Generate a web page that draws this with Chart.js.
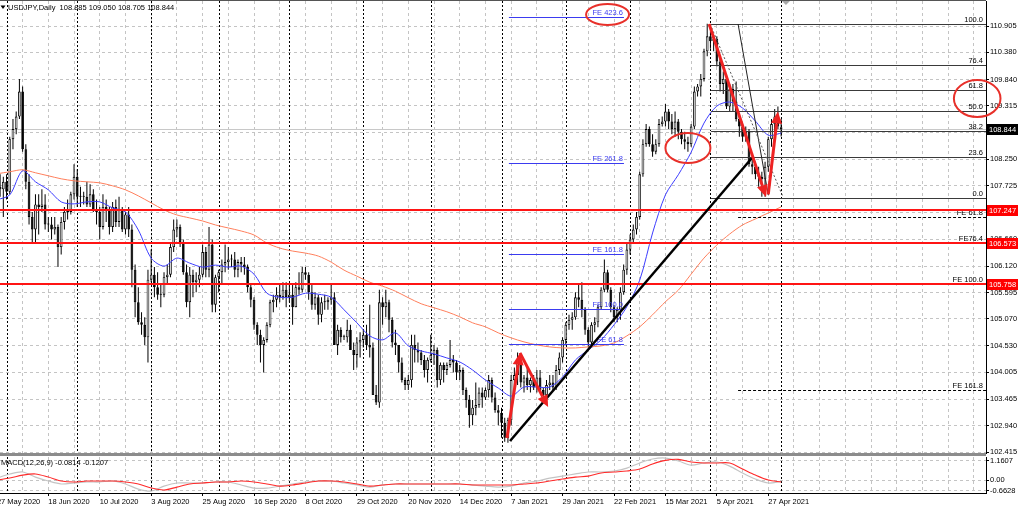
<!DOCTYPE html>
<html>
<head>
<meta charset="utf-8">
<title>USDJPY Daily</title>
<script src="https://cdn.jsdelivr.net/npm/chart.js@4.4.1/dist/chart.umd.min.js"></script>
<style>
  html, body { margin: 0; padding: 0; background: #fff; overflow: hidden; }
  #wrap { position: relative; width: 1024px; height: 511px; }
  #main { position: absolute; left: 0; top: 0; }
  #sep { position: absolute; left: 0; top: 453px; width: 986px; height: 3px; background: #8c8c8c; }
  #macd { position: absolute; left: 0; top: 456px; }
</style>
</head>
<body>
<div id="wrap">
  <canvas id="main" width="1024" height="457"></canvas>
  <div id="sep"></div>
  <canvas id="macd" width="1024" height="55"></canvas>
</div>
<script>
// ---- data ----

const headerText = 'USDJPY,Daily  108.885 109.050 108.705 108.844';
const macdTitle = 'MACD(12,26,9) -0.0814 -0.1207';

// daily candles [open, high, low, close], one row per bar from 27 May 2020
const candles = [
  // May 27-29
  [107.55,107.85,107.40,107.70],[107.70,107.95,107.50,107.65],[107.65,107.90,107.10,107.80],
  // Jun 1-5
  [107.80,107.95,107.45,107.60],[107.60,108.70,107.55,108.65],[108.65,109.05,108.45,108.85],[108.85,109.20,108.75,109.10],[109.10,109.85,109.05,109.60],
  // Jun 8-12
  [109.60,109.70,108.40,108.45],[108.45,108.55,107.65,107.80],[107.80,107.95,106.95,107.10],[107.10,107.20,106.60,106.85],[106.85,107.55,106.60,107.35],
  // Jun 15-19
  [107.35,107.55,106.75,107.30],[107.30,107.65,107.20,107.35],[107.35,107.55,106.85,106.95],[106.95,107.10,106.80,106.95],[106.95,107.10,106.65,106.85],
  // Jun 22-26
  [106.85,107.10,106.75,106.90],[106.90,106.95,106.10,106.50],[106.50,107.10,106.35,107.00],[107.00,107.30,106.85,107.20],[107.20,107.45,107.05,107.20],
  // Jun 29 - Jul 3
  [107.20,107.60,107.15,107.55],[107.55,108.15,107.45,107.90],[107.90,108.05,107.30,107.50],[107.50,107.70,107.30,107.50],[107.50,107.60,107.35,107.50],
  // Jul 6-10
  [107.50,107.80,107.30,107.35],[107.35,107.75,107.30,107.55],[107.55,107.65,107.20,107.25],[107.25,107.45,106.95,107.20],[107.20,107.30,106.65,106.90],
  // Jul 13-17
  [106.90,107.55,106.85,107.30],[107.30,107.45,107.00,107.25],[107.25,107.30,106.75,106.90],[106.90,107.40,106.80,107.30],[107.30,107.45,106.90,107.00],
  // Jul 20-24
  [107.00,107.50,106.90,107.25],[107.25,107.30,106.80,106.85],[106.85,107.20,106.75,107.15],[107.15,107.30,106.70,106.85],[106.85,106.95,105.70,106.05],
  // Jul 27-31
  [106.05,106.15,105.10,105.40],[105.40,105.70,104.95,105.00],[105.00,105.20,104.75,104.95],[104.95,105.10,104.55,104.70],[104.70,106.05,104.20,105.85],
  // Aug 3-7
  [105.85,106.45,105.80,105.95],[105.95,106.10,105.50,105.70],[105.70,106.00,105.45,105.55],[105.55,105.75,105.30,105.55],[105.55,106.00,105.50,105.90],
  // Aug 10-14
  [105.90,106.15,105.75,105.95],[105.95,106.60,105.90,106.50],[106.50,107.05,106.40,106.85],[106.85,107.05,106.70,106.90],[106.90,106.95,106.50,106.60],
  // Aug 17-21
  [106.60,106.65,105.95,106.00],[106.00,106.15,105.30,105.40],[105.40,106.10,105.10,105.95],[105.95,106.05,105.50,105.80],[105.80,106.00,105.60,105.85],
  // Aug 24-28
  [105.85,106.10,105.70,105.95],[105.95,106.55,105.90,106.40],[106.40,106.50,105.90,106.05],[106.05,106.90,105.90,106.55],[106.55,106.65,105.20,105.35],
  // Aug 31 - Sep 4
  [105.35,105.95,105.20,105.90],[105.90,106.05,105.60,106.00],[106.00,106.25,105.75,106.15],[106.15,106.55,106.00,106.20],[106.20,106.50,106.05,106.25],
  // Sep 7-11
  [106.25,106.35,106.10,106.25],[106.25,106.40,105.90,106.05],[106.05,106.25,105.90,106.20],[106.20,106.30,106.00,106.15],[106.15,106.30,105.95,106.10],
  // Sep 14-18
  [106.10,106.15,105.60,105.70],[105.70,105.75,105.30,105.45],[105.45,105.50,104.85,104.95],[104.95,105.00,104.55,104.75],[104.75,104.85,104.20,104.55],
  // Sep 21-25
  [104.55,104.70,104.00,104.65],[104.65,105.00,104.60,104.95],[104.95,105.45,104.90,105.40],[105.40,105.55,105.20,105.45],[105.45,105.70,105.30,105.55],
  // Sep 28 - Oct 2
  [105.55,105.75,105.40,105.50],[105.50,105.80,105.45,105.65],[105.65,105.80,105.30,105.50],[105.50,105.75,105.40,105.55],[105.55,105.75,104.95,105.30],
  // Oct 5-9
  [105.30,105.80,105.30,105.70],[105.70,106.00,105.55,105.65],[105.65,106.10,105.60,106.00],[106.00,106.10,105.85,105.95],[105.95,106.00,105.45,105.60],
  // Oct 12-16
  [105.60,105.75,105.25,105.35],[105.35,105.60,105.25,105.50],[105.50,105.55,104.95,105.15],[105.15,105.50,105.00,105.40],[105.40,105.55,105.25,105.40],
  // Oct 19-23
  [105.40,105.50,105.25,105.45],[105.45,105.75,105.35,105.50],[105.50,105.60,104.55,104.55],[104.55,104.95,104.35,104.85],[104.85,104.90,104.60,104.70],
  // Oct 25 (Sun), 26-30
  [104.70,104.75,104.65,104.70],[104.70,105.05,104.60,104.85],[104.85,104.95,104.45,104.45],[104.45,104.60,104.05,104.35],[104.35,104.70,104.10,104.60],[104.60,104.80,104.30,104.65],
  // Nov 2-6
  [104.65,104.85,104.50,104.75],[104.75,104.95,104.45,104.55],[104.55,105.35,104.30,104.50],[104.50,104.60,103.55,103.55],[103.55,103.75,103.35,103.40],
  // Nov 9-13
  [103.40,105.65,103.30,105.40],[105.40,105.50,104.95,105.30],[105.30,105.65,105.10,105.40],[105.40,105.45,104.80,105.05],[105.05,105.10,104.50,104.60],
  // Nov 16-20
  [104.60,104.85,104.35,104.55],[104.55,104.55,104.00,104.20],[104.20,104.30,103.80,103.85],[103.85,103.90,103.65,103.75],[103.75,103.95,103.65,103.85],
  // Nov 23-27
  [103.85,104.75,103.70,104.55],[104.55,104.75,104.20,104.45],[104.45,104.60,104.20,104.40],[104.40,104.45,104.15,104.25],[104.25,104.35,103.90,104.05],
  // Nov 30 - Dec 4
  [104.05,104.30,103.80,104.25],[104.25,104.75,104.20,104.35],[104.35,104.55,104.15,104.45],[104.45,104.50,103.70,103.85],[103.85,104.20,103.75,104.15],
  // Dec 7-11
  [104.15,104.20,103.80,104.05],[104.05,104.20,103.95,104.15],[104.15,104.65,104.10,104.25],[104.25,104.35,104.00,104.20],[104.20,104.25,103.85,104.00],
  // Dec 14-18
  [104.00,104.15,103.85,104.05],[104.05,104.10,103.55,103.65],[103.65,103.70,103.30,103.45],[103.45,103.55,102.90,103.15],[103.15,103.45,102.95,103.30],
  // Dec 21-24
  [103.30,103.80,103.15,103.35],[103.35,103.70,103.30,103.60],[103.60,103.70,103.30,103.50],[103.50,103.70,103.45,103.65],
  // Dec 28-31
  [103.65,103.95,103.50,103.85],[103.85,103.90,103.40,103.50],[103.50,103.60,103.20,103.25],[103.25,103.35,102.95,103.20],
  // Jan 4-8
  [103.20,103.30,102.70,103.00],[103.00,103.10,102.62,102.70],[102.70,103.10,102.60,103.05],[103.05,103.95,102.95,103.85],[103.85,104.10,103.65,103.95],
  // Jan 11-15
  [103.95,104.40,103.75,104.20],[104.20,104.30,103.70,103.80],[103.80,103.95,103.60,103.90],[103.90,104.10,103.65,103.75],[103.75,103.90,103.60,103.85],
  // Jan 18-22
  [103.85,103.95,103.65,103.70],[103.70,104.05,103.60,103.90],[103.90,104.05,103.60,103.65],[103.65,103.70,103.45,103.55],[103.55,103.85,103.50,103.75],
  // Jan 25-29
  [103.75,103.95,103.65,103.80],[103.80,103.95,103.65,103.70],[103.70,104.15,103.65,104.05],[104.05,104.40,103.95,104.30],[104.30,104.70,104.20,104.65],
  // Feb 1-5
  [104.65,105.00,104.55,104.95],[104.95,105.15,104.85,105.05],[105.05,105.20,104.85,105.10],[105.10,105.60,105.05,105.50],[105.50,105.75,105.30,105.45],
  // Feb 8-12
  [105.45,105.80,105.10,105.25],[105.25,105.30,104.75,104.85],[104.85,104.90,104.50,104.60],[104.60,105.00,104.55,104.95],[104.95,105.10,104.80,105.00],
  // Feb 15-19
  [105.00,105.35,104.90,105.30],[105.30,105.70,105.25,105.65],[105.65,106.25,105.60,106.00],[106.00,106.05,105.60,105.65],[105.65,105.70,105.20,105.30],
  // Feb 22-26
  [105.30,105.35,105.00,105.10],[105.10,105.30,105.00,105.25],[105.25,105.70,105.05,105.60],[105.60,106.15,105.55,106.05],[106.05,106.60,105.95,106.45],
  // Mar 1-5
  [106.45,106.75,106.35,106.65],[106.65,106.95,106.60,106.85],[106.85,107.20,106.75,107.10],[107.10,108.00,107.05,107.95],[107.95,108.65,107.90,108.55],
  // Mar 8-12
  [108.55,108.95,108.50,108.85],[108.85,108.90,108.50,108.55],[108.55,108.75,108.30,108.40],[108.40,108.65,108.35,108.55],[108.55,109.05,108.50,108.95],
  // Mar 14 (Sun), 15-19
  [108.95,109.10,108.90,109.00],[109.00,109.35,108.90,109.20],[109.20,109.25,108.85,109.00],[109.00,109.15,108.75,108.85],[108.85,109.20,108.70,109.00],[109.00,109.05,108.65,108.80],
  // Mar 22-26
  [108.80,108.85,108.55,108.65],[108.65,108.80,108.45,108.60],[108.60,108.70,108.40,108.55],[108.55,108.95,108.50,108.90],[108.90,109.70,108.85,109.60],
  // Mar 28 (Sun), 29 - Apr 2
  [109.60,109.75,109.50,109.70],[109.70,109.95,109.50,109.85],[109.85,110.45,109.80,110.40],[110.40,110.95,110.30,110.70],[110.70,110.80,110.45,110.60],[110.60,110.70,110.40,110.65],
  // Apr 5-9
  [110.65,110.70,110.10,110.20],[110.20,110.30,109.60,109.75],[109.75,110.00,109.55,109.85],[109.85,109.90,109.25,109.30],[109.30,109.75,109.20,109.65],
  // Apr 12-16
  [109.65,109.75,109.20,109.40],[109.40,109.80,109.00,109.05],[109.05,109.10,108.70,108.90],[108.90,108.95,108.60,108.70],[108.70,108.90,108.60,108.80],
  // Apr 19-23
  [108.80,108.85,108.10,108.15],[108.15,108.30,107.95,108.10],[108.10,108.20,107.85,107.95],[107.95,108.10,107.70,107.90],[107.90,108.00,107.50,107.85],
  // Apr 26-30
  [107.85,108.20,107.50,108.10],[108.10,108.70,108.00,108.65],[108.65,109.05,108.50,108.95],[108.95,109.25,108.80,109.10],[109.10,109.30,108.85,108.90],
  // May 3
  [108.885,109.050,108.705,108.844]
];

// moving averages and MACD, read every 4th bar (bar 0, 4, 8, ...)
const MA_STEP = 4;
const maFast = [107.44,107.54,108.02,107.80,107.64,107.40,107.36,107.40,107.40,107.28,
  107.20,106.84,106.28,106.12,106.28,106.18,106.10,106.14,106.10,106.12,
  105.96,105.58,105.50,105.50,105.58,105.56,105.50,105.25,104.99,104.73,
  104.65,104.79,104.53,104.43,104.37,104.29,104.21,104.05,103.85,103.69,
  103.53,103.71,103.71,103.71,103.91,104.25,104.45,104.65,104.95,105.31,
  105.84,106.78,107.54,107.94,108.39,108.97,109.31,109.39,109.27,109.01,
  108.73,108.77];
const maSlow = [107.96,108.00,108.04,107.98,107.92,107.86,107.82,107.80,107.78,107.72,
  107.64,107.52,107.38,107.24,107.14,107.08,107.02,106.94,106.88,106.82,
  106.74,106.58,106.48,106.42,106.38,106.32,106.20,106.04,105.92,105.80,
  105.72,105.62,105.49,105.37,105.29,105.21,105.11,104.99,104.91,104.79,
  104.69,104.61,104.55,104.51,104.49,104.49,104.51,104.53,104.59,104.73,
  104.91,105.15,105.41,105.64,105.96,106.28,106.54,106.76,106.94,107.06,
  107.18,107.30];
const macdMain = [0.12,0.37,0.49,0.18,-0.06,-0.24,-0.18,-0.12,-0.12,-0.06,
  -0.24,-0.55,-0.67,-0.37,-0.18,-0.18,-0.18,-0.12,-0.12,-0.30,
  -0.49,-0.49,-0.37,-0.24,-0.12,-0.06,-0.06,-0.18,-0.30,-0.43,
  -0.30,-0.24,-0.24,-0.24,-0.24,-0.24,-0.24,-0.30,-0.37,-0.43,
  -0.37,-0.18,-0.06,0.12,0.24,0.37,0.49,0.49,0.55,0.73,
  1.04,1.28,1.34,1.16,0.91,1.04,1.10,0.85,0.43,0.06,
  -0.18,-0.08];
const macdSignal = [0.00,0.12,0.30,0.37,0.18,-0.06,-0.12,-0.06,-0.06,-0.06,
  -0.12,-0.24,-0.49,-0.61,-0.43,-0.24,-0.18,-0.12,-0.12,-0.06,
  -0.12,-0.24,-0.37,-0.30,-0.18,-0.06,-0.06,-0.12,-0.24,-0.37,
  -0.30,-0.24,-0.24,-0.24,-0.24,-0.24,-0.24,-0.30,-0.30,-0.30,
  -0.30,-0.24,-0.18,-0.06,0.06,0.18,0.24,0.43,0.49,0.55,
  0.67,0.98,1.20,1.26,1.10,1.04,1.04,1.04,0.67,0.30,
  0.00,-0.12];

// axis ticks
const yTicks = [110.905,110.380,109.840,109.315,108.775,108.250,107.725,107.185,106.660,106.120,105.595,105.070,104.530,104.005,103.465,102.940,102.415];
const macdTicks = [1.1607, 0, -0.6628];

// levels
const bidPrice = 108.844;
const redLevels = [107.247, 106.573, 105.758];
const boxPrices = [108.844, 107.247, 106.573, 105.758];
const boxColors = ['#000000', '#ff0000', '#ff0000', '#ff0000'];
const fibLabels = ['100.0', '76.4', '61.8', '50.0', '38.2', '23.6', '0.0'];
const fibPrices = [110.945, 110.130, 109.623, 109.215, 108.807, 108.302, 107.485];
const feLeftLabels = ['FE 423.6', 'FE 261.8', 'FE 161.8', 'FE 100.0', 'FE 61.8'];
const feLeftPrices = [111.09, 108.175, 106.36, 105.265, 104.57];
const feRightLabels = ['FE 61.8', 'FE76.4', 'FE 100.0', 'FE 161.8'];
const feRightPrices = [107.105, 106.573, 105.758, 103.65];

// drawn objects, in (bar index, price)
const feSpan = [159.3, 195.1];
const fibStart = 222.2;
const feRightStart = 230.6;
const trendLine = [159.65, 102.635, 234.9, 108.275];
const thinLine = [230.6, 110.945, 240.0, 107.537];
const fibDiagonal = [221.9, 110.945, 244.6, 107.497];
const arrowPaths = [
  [158.7, 102.695, 162.75, 104.39],
  [162.75, 104.39, 171.5, 103.31],
  [221.6, 110.945, 239.3, 107.497],
  [240.0, 107.55, 243.0, 109.20]
];
const ellipses = [[190.0, 111.134, 21.5, 10.5], [215.0, 108.474, 22.5, 15], [305.0, 109.46, 23.3, 18.5]];

// ---- calendar: trading days (plus the Sunday bars the broker prints) ----
const MONTHS = ['Jan','Feb','Mar','Apr','May','Jun','Jul','Aug','Sep','Oct','Nov','Dec'];
const skipDays = ['2020-12-25', '2021-01-01'];
const extraDays = ['2020-10-25', '2021-03-14', '2021-03-28'];
const dates = [];
const monthStarts = [];
let lastMonth = null;
for (let t = Date.UTC(2020, 4, 27); t <= Date.UTC(2021, 4, 3); t += 86400000) {
  const d = new Date(t);
  const iso = d.toISOString().slice(0, 10);
  const wd = d.getUTCDay();
  if ((wd === 0 || wd === 6) && !extraDays.includes(iso)) continue;
  if (skipDays.includes(iso)) continue;
  if (lastMonth !== null && d.getUTCMonth() !== lastMonth) monthStarts.push(dates.length);
  lastMonth = d.getUTCMonth();
  dates.push(d.getUTCDate() + ' ' + MONTHS[d.getUTCMonth()] + ' ' + d.getUTCFullYear());
}
if (dates.length !== candles.length) console.log('bar count mismatch', dates.length, candles.length);

// ---- layout ----
const FONT = '"Liberation Sans", Arial, Helvetica, sans-serif';
const FS = 7.5;
const X_MIN = 0.965, X_MAX = 307.74;
const gridIdx = [];
for (let i = 0; i <= 304; i += 8) gridIdx.push(i);

const GRID = '#c4c4c4';

function seg(ctx, x1, y1, x2, y2) {
  ctx.beginPath();
  ctx.moveTo(x1, y1);
  ctx.lineTo(x2, y2);
  ctx.stroke();
}

function arrow(ctx, x1, y1, x2, y2) {
  const ang = Math.atan2(y2 - y1, x2 - x1);
  const head = 12, half = 5.5;
  const bx = x2 - head * Math.cos(ang), by = y2 - head * Math.sin(ang);
  seg(ctx, x1, y1, bx, by);
  ctx.beginPath();
  ctx.moveTo(x2, y2);
  ctx.lineTo(bx + half * Math.sin(ang), by - half * Math.cos(ang));
  ctx.lineTo(bx - half * Math.sin(ang), by + half * Math.cos(ang));
  ctx.closePath();
  ctx.fill();
}

function drawSeparators(chart) {
  const {ctx, chartArea: a, scales: {x}} = chart;
  ctx.save();
  ctx.strokeStyle = '#000';
  ctx.lineWidth = 1;
  ctx.setLineDash([2, 2]);
  monthStarts.forEach(i => {
    const px = Math.round(x.getPixelForValue(i)) + 0.5;
    seg(ctx, px, a.top, px, a.bottom);
  });
  ctx.restore();
}

const mainOverlay = {
  id: 'mainOverlay',
  beforeDatasetsDraw(chart) {
    drawSeparators(chart);
    const {ctx, chartArea: a, scales: {y}} = chart;
    ctx.save();
    ctx.strokeStyle = '#c8c8c8';
    ctx.lineWidth = 1;
    const by = Math.round(y.getPixelForValue(bidPrice)) + 0.5;
    seg(ctx, a.left, by, a.right, by);
    ctx.restore();
  },
  afterDatasetsDraw(chart) {
    const {ctx, chartArea: a, scales: {x, y}} = chart;
    const X = v => x.getPixelForValue(v);
    const Y = v => Math.round(y.getPixelForValue(v)) + 0.5;
    ctx.save();
    ctx.font = FS + 'px ' + FONT;
    ctx.textAlign = 'right';
    ctx.textBaseline = 'alphabetic';

    // Fibonacci expansion (blue, left)
    ctx.strokeStyle = '#3b3bf0';
    ctx.fillStyle = '#3b3bf0';
    ctx.lineWidth = 1;
    feLeftPrices.forEach((p, k) => {
      const py = Y(p);
      seg(ctx, X(feSpan[0]), py, X(feSpan[1]), py);
      ctx.fillText(feLeftLabels[k], X(feSpan[1]) - 1, py - 2.5);
    });

    // Fibonacci expansion (dashed, right)
    ctx.strokeStyle = '#000';
    ctx.fillStyle = '#000';
    ctx.setLineDash([3, 2]);
    feRightPrices.forEach(p => seg(ctx, X(feRightStart), Y(p), a.right, Y(p)));
    ctx.setLineDash([]);

    // retracement
    ctx.strokeStyle = '#3a3a3a';
    fibPrices.forEach((p, k) => {
      seg(ctx, X(fibStart), Y(p), a.right, Y(p));
      ctx.fillText(fibLabels[k], a.right - 3, Y(p) - 2.5);
    });
    feRightPrices.forEach((p, k) => ctx.fillText(feRightLabels[k], a.right - 3, Y(p) - 2.5));

    ctx.strokeStyle = '#222';
    seg(ctx, X(thinLine[0]), y.getPixelForValue(thinLine[1]), X(thinLine[2]), y.getPixelForValue(thinLine[3]));
    ctx.setLineDash([2, 2]);
    ctx.strokeStyle = '#555';
    seg(ctx, X(fibDiagonal[0]), y.getPixelForValue(fibDiagonal[1]), X(fibDiagonal[2]), y.getPixelForValue(fibDiagonal[3]));
    ctx.setLineDash([]);

    // support / resistance
    ctx.strokeStyle = '#ff1414';
    ctx.lineWidth = 2;
    redLevels.forEach(p => {
      const py = Math.round(y.getPixelForValue(p));
      seg(ctx, a.left, py, a.right, py);
    });

    // trend line
    ctx.strokeStyle = '#000';
    ctx.lineWidth = 2.5;
    seg(ctx, X(trendLine[0]), y.getPixelForValue(trendLine[1]), X(trendLine[2]), y.getPixelForValue(trendLine[3]));

    // arrows
    ctx.strokeStyle = '#ee2222';
    ctx.fillStyle = '#ee2222';
    ctx.lineWidth = 3;
    arrowPaths.forEach(p => arrow(ctx, X(p[0]), y.getPixelForValue(p[1]), X(p[2]), y.getPixelForValue(p[3])));
    ctx.restore();
  },
  afterDraw(chart) {
    const {ctx, chartArea: a, scales: {x, y}} = chart;
    ctx.save();
    ctx.font = FS + 'px ' + FONT;
    ctx.textBaseline = 'middle';
    ctx.textAlign = 'left';

    // price boxes on the axis
    boxPrices.forEach((p, k) => {
      const py = Math.round(y.getPixelForValue(p));
      ctx.fillStyle = boxColors[k];
      ctx.fillRect(a.right + 1, py - 5, 31, 11);
      ctx.fillStyle = '#fff';
      ctx.fillText(p.toFixed(3), a.right + 3, py + 0.5);
    });

    // ellipses
    ctx.strokeStyle = '#e8302a';
    ctx.lineWidth = 2;
    ellipses.forEach(e => {
      ctx.beginPath();
      ctx.ellipse(x.getPixelForValue(e[0]), y.getPixelForValue(e[1]), e[2], e[3], 0, 0, Math.PI * 2);
      ctx.stroke();
    });

    // frame top + shift marker
    ctx.strokeStyle = '#555';
    ctx.lineWidth = 1;
    seg(ctx, 0, 0.5, a.right, 0.5);
    const mx = x.getPixelForValue(245.5);
    ctx.fillStyle = '#a8a8a8';
    ctx.beginPath();
    ctx.moveTo(mx - 4, 1); ctx.lineTo(mx + 4, 1); ctx.lineTo(mx, 5);
    ctx.closePath();
    ctx.fill();

    // header
    ctx.fillStyle = '#000';
    ctx.beginPath();
    ctx.moveTo(0.5, 5.5); ctx.lineTo(5.5, 5.5); ctx.lineTo(3, 9);
    ctx.closePath();
    ctx.fill();
    ctx.fillText(headerText, 8, 7.5);
    ctx.restore();
  }
};

const macdOverlay = {
  id: 'macdOverlay',
  beforeDatasetsDraw(chart) { drawSeparators(chart); },
  afterDraw(chart) {
    const {ctx} = chart;
    ctx.save();
    ctx.font = FS + 'px ' + FONT;
    ctx.textBaseline = 'middle';
    ctx.fillStyle = '#000';
    ctx.fillText(macdTitle, 1, 7);
    ctx.restore();
  }
};

const tickFont = {family: FONT, size: FS};

const xScaleBase = {
  type: 'linear',
  min: X_MIN,
  max: X_MAX,
  offset: false,
  afterBuildTicks: s => { s.ticks = gridIdx.map(v => ({value: v})); }
};

// ---- main pane ----
new Chart(document.getElementById('main'), {
  type: 'bar',
  data: {
    datasets: [
      {
        type: 'line',
        data: maSlow.map((v, k) => ({x: k * MA_STEP, y: v})),
        borderColor: '#ff7f5c', borderWidth: 1, pointRadius: 0, pointBorderWidth: 0, tension: 0.3, order: 0
      },
      {
        type: 'line',
        data: maFast.map((v, k) => ({x: k * MA_STEP, y: v})),
        borderColor: '#3d3dff', borderWidth: 1, pointRadius: 0, pointBorderWidth: 0, tension: 0.3, order: 0
      },
      {
        // candle bodies
        data: candles.map((c, i) => ({x: i, y: [c[0], c[3]]})),
        backgroundColor: candles.map(c => (c[3] >= c[0] ? '#e6e6e6' : '#000000')),
        borderColor: '#000', borderWidth: 0.9, borderSkipped: false,
        grouped: false, barPercentage: 0.85, categoryPercentage: 1, minBarLength: 1, order: 1
      },
      {
        // wicks
        data: candles.map((c, i) => ({x: i, y: [c[2], c[1]]})),
        backgroundColor: '#000', borderWidth: 0,
        grouped: false, maxBarThickness: 1, order: 2
      }
    ]
  },
  options: {
    responsive: false,
    animation: false,
    events: [],
    layout: {padding: {top: 1, bottom: 4, left: 0, right: 0}, autoPadding: false},
    plugins: {legend: {display: false}, tooltip: {enabled: false}},
    scales: {
      x: Object.assign({}, xScaleBase, {
        grid: {color: GRID, lineWidth: 1, drawTicks: false, offset: false},
        border: {display: false, dash: [3, 3]},
        ticks: {display: false, autoSkip: false},
        afterFit: s => { s.height = 0; s.paddingLeft = 0; s.paddingRight = 0; }
      }),
      y: {
        type: 'linear',
        position: 'right',
        min: 102.3958,
        max: 111.4032,
        grid: {color: GRID, tickColor: '#000', tickLength: 3},
        border: {display: true, color: '#000', dash: [3, 3]},
        ticks: {font: tickFont, color: '#000', padding: 1, autoSkip: false, callback: v => v.toFixed(3)},
        afterBuildTicks: s => { s.ticks = yTicks.map(v => ({value: v})); },
        afterFit: s => { s.width = 38; s.paddingTop = 0; s.paddingBottom = 0; }
      }
    }
  },
  plugins: [mainOverlay]
});

// ---- MACD pane ----
new Chart(document.getElementById('macd'), {
  type: 'line',
  data: {
    datasets: [
      {
        data: macdSignal.map((v, k) => ({x: k * MA_STEP, y: v})),
        borderColor: '#ff2a2a', borderWidth: 1.1, pointRadius: 0, pointBorderWidth: 0, tension: 0.3, order: 0
      },
      {
        data: macdMain.map((v, k) => ({x: k * MA_STEP, y: v})),
        borderColor: '#c4c4c4', borderWidth: 1.2, pointRadius: 0, pointBorderWidth: 0, tension: 0.3, order: 1
      }
    ]
  },
  options: {
    responsive: false,
    animation: false,
    events: [],
    layout: {padding: {top: 1, bottom: 0, left: 0, right: 0}, autoPadding: false},
    plugins: {legend: {display: false}, tooltip: {enabled: false}},
    scales: {
      x: Object.assign({}, xScaleBase, {
        grid: {
          color: GRID, offset: false, tickLength: 3,
          tickColor: c => (c.tick && c.tick.value % 16 === 0 && c.tick.value <= 240 ? '#000' : 'rgba(0,0,0,0)')
        },
        border: {display: true, color: '#000', dash: [3, 3]},
        ticks: {
          autoSkip: false, maxRotation: 0, minRotation: 0, align: 'start', padding: 1,
          font: tickFont, color: '#000',
          callback: v => (v % 16 === 0 && dates[v] ? dates[v] : '')
        },
        afterFit: s => { s.height = 18; s.paddingLeft = 0; s.paddingRight = 0; }
      }),
      y: {
        type: 'linear',
        position: 'right',
        min: -0.79,
        max: 1.404,
        grid: {color: GRID, tickColor: '#000', tickLength: 3},
        border: {display: true, color: '#000', dash: [3, 3]},
        ticks: {font: tickFont, color: '#000', padding: 1, callback: v => (v === 0 ? '0.00' : v.toFixed(4))},
        afterBuildTicks: s => { s.ticks = macdTicks.map(v => ({value: v})); },
        afterFit: s => { s.width = 38; s.paddingTop = 0; s.paddingBottom = 0; }
      }
    }
  },
  plugins: [macdOverlay]
});
</script>
</body>
</html>
